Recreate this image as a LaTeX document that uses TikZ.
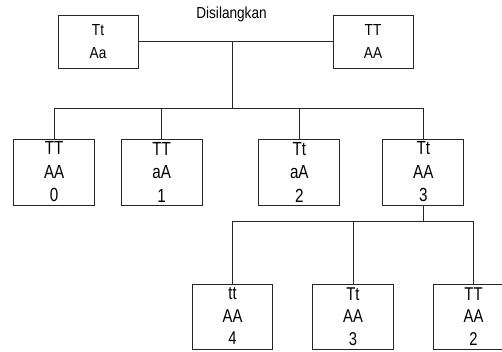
\documentclass[tikz,border=0pt]{standalone}
\usepackage{fontspec}
\newfontfamily\boxfont[FakeStretch=0.8]{Liberation Sans}
\newfontfamily\topfont[FakeStretch=0.85]{Liberation Sans}
\begin{document}
\begin{tikzpicture}[x=1pt,y=-1pt,
  line/.style={draw=black!85,line width=0.9pt},
  parentbox/.style={line,rectangle,minimum width=80pt,minimum height=53pt,inner sep=0pt,align=center,font=\topfont\fontsize{16}{22.7}\selectfont},
  kidbox/.style={line,rectangle,minimum width=81pt,minimum height=66pt,inner sep=0pt,align=center,font=\boxfont\fontsize{19}{23.5}\selectfont},
  gkidbox/.style={line,rectangle,minimum width=80.5pt,minimum height=65pt,inner sep=0pt,align=center,font=\boxfont\fontsize{18.5}{22.5}\selectfont},
  titlestyle/.style={inner sep=0pt,anchor=base,font=\topfont\fontsize{16}{19}\selectfont}]
\clip (0,0) rectangle (502,352);
\fill[white] (0,0) rectangle (502,352);
% title
\node[titlestyle] (title) at (231.5,18.3) {Disilangkan};
% parents
\node[parentbox] (p1) at (98,41.5) {Tt\\Aa};
\node[parentbox] (p2) at (373,41.5) {TT\\AA};
% children
\node[kidbox] (q0) at (54.2,172) {TT\\AA\\0};
\node[kidbox] (q1) at (161.7,172) {TT\\aA\\1};
\node[kidbox] (q2) at (299.3,172) {Tt\\aA\\2};
\node[kidbox] (q3) at (423.3,172) {Tt\\AA\\3};
% grandchildren
\node[gkidbox] (r0) at (232.5,316.5) {tt\\AA\\4};
\node[gkidbox] (r1) at (353,316.5) {Tt\\AA\\3};
\node[gkidbox] (r2) at (473.5,316.5) {TT\\AA\\2};
% junctions
\coordinate (j1) at (232.3,42);
\coordinate (b1) at (232.3,108.3);
\coordinate (b2) at (423.3,221);
% connectors
\draw[line] (p1.east) -- (p2.west);
\draw[line] (j1) -- (b1);
\draw[line] (q0.north) -- (q0.north |- b1) -- (q3.north |- b1) -- (q3.north);
\draw[line] (q1.north) -- (q1.north |- b1);
\draw[line] (q2.north) -- (q2.north |- b1);
\draw[line] (q3.south) -- (b2);
\draw[line] (r0.north) -- (r0.north |- b2) -- (r2.north |- b2) -- (r2.north);
\draw[line] (r1.north) -- (r1.north |- b2);
\end{tikzpicture}
\end{document}
